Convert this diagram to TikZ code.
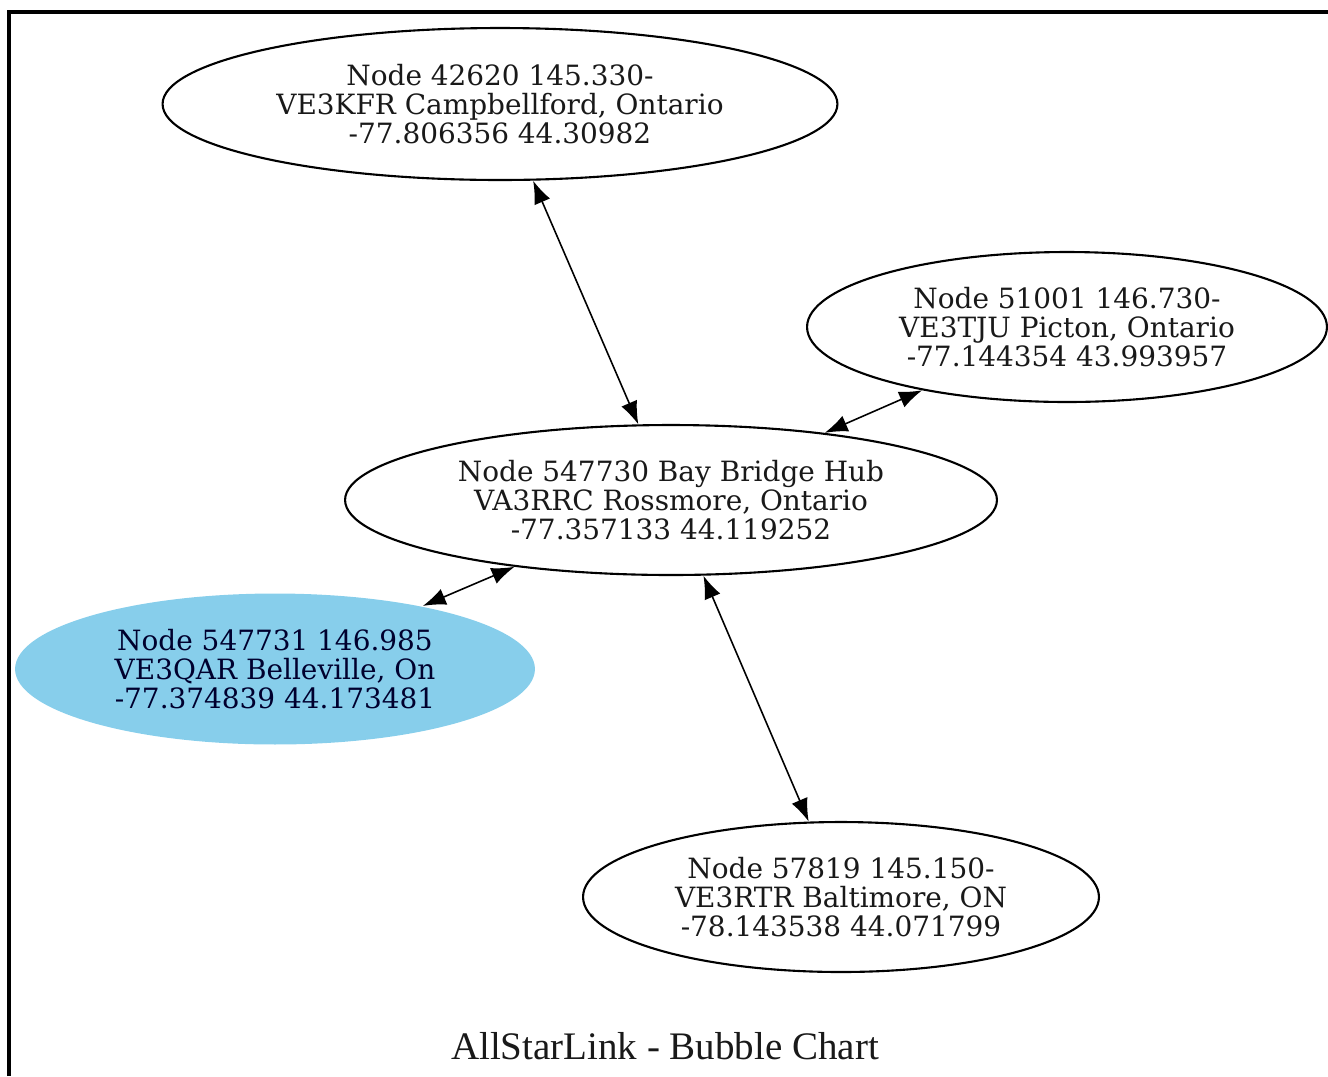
\documentclass[tikz,border=0pt]{standalone}
\usepackage{fontspec}
\setmainfont{DejaVu Serif}
\newfontfamily\titlefont{Liberation Serif}
\usetikzlibrary{shapes.geometric,arrows.meta}
\definecolor{bubblesky}{RGB}{135,206,235}
\tikzset{
  bubble/.style={ellipse, draw=black, line width=1.2pt, inner sep=0pt,
    align=center, font=\fontsize{15.9}{16.3}\selectfont, text=black!90},
  hotbubble/.style={bubble, draw=none, fill=bubblesky, text=black!70!blue!60!black},
  link/.style={arrows={Latex[length=0.46cm,width=0.34cm]-Latex[length=0.46cm,width=0.34cm]}, line width=0.9pt}
}
\begin{document}
\begin{tikzpicture}[x=0.02cm,y=-0.02cm]
        \useasboundingbox (0,0) rectangle (1328,1076);
        \draw[line width=2pt] (9,1076) -- (9,12) -- (1328,12);
        \node[bubble, minimum width=13.5cm, minimum height=3.04cm] (n42620) at (500,104)
            {Node 42620 145.330-\\VE3KFR Campbellford, Ontario\\-77.806356 44.30982};
        \node[bubble, minimum width=10.4cm, minimum height=3.0cm] (n51001) at (1067,327)
            {Node 51001 146.730-\\VE3TJU Picton, Ontario\\-77.144354 43.993957};
        \node[bubble, minimum width=13.04cm, minimum height=3.0cm] (n547730) at (671,500)
            {Node 547730 Bay Bridge Hub\\VA3RRC Rossmore, Ontario\\-77.357133 44.119252};
        \node[hotbubble, minimum width=10.4cm, minimum height=3.02cm] (n547731) at (275,669)
            {Node 547731 146.985\\VE3QAR Belleville, On\\-77.374839 44.173481};
        \node[bubble, minimum width=10.32cm, minimum height=3.0cm] (n57819) at (841,897)
            {Node 57819 145.150-\\VE3RTR Baltimore, ON\\-78.143538 44.071799};
        \draw[link] (n42620) -- (n547730);
        \draw[link] (n547730) -- (n51001);
        \draw[link] (n547730) -- (n547731);
        \draw[link] (n547730) -- (n57819);
        \node[font=\titlefont\fontsize{22.2}{24}\selectfont, text=black!90] (title) at (665,1046)
            {AllStarLink - Bubble Chart};
\end{tikzpicture}
\end{document}
